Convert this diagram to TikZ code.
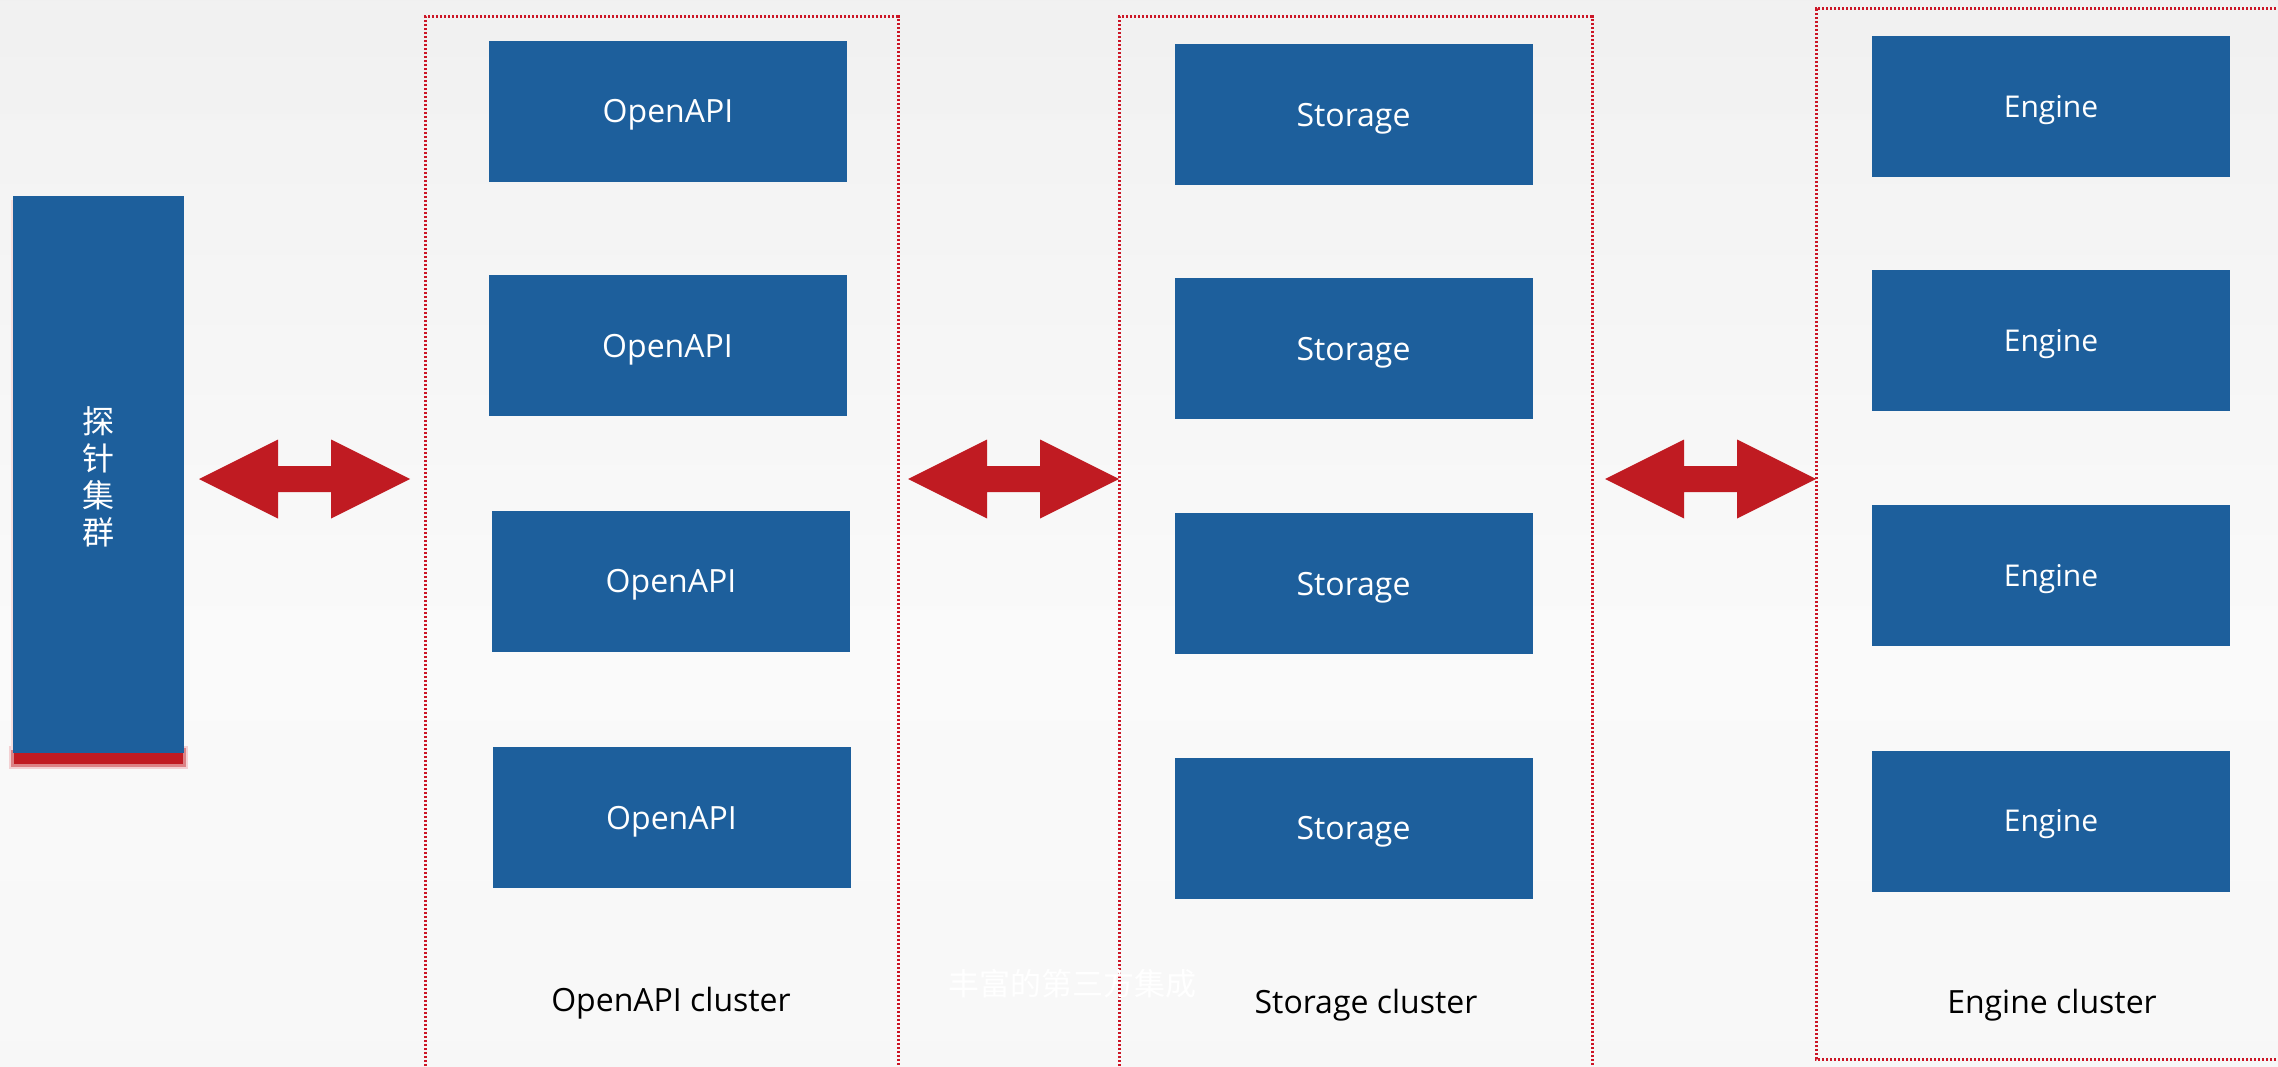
\documentclass[tikz,border=0pt]{standalone}
\usepackage{fontspec}
\setmainfont{Open Sans}
\newfontfamily\cjk{Noto Sans CJK SC}
\usetikzlibrary{calc}

\definecolor{boxblue}{HTML}{1D5F9C}
\definecolor{arrowred}{HTML}{C01B22}
\definecolor{frame}{HTML}{CC1626}
\definecolor{bgtop}{HTML}{E7E7E7}
\definecolor{bgmid}{HTML}{FAFAFA}
\definecolor{bgbot}{HTML}{F4F4F4}

% page background: grey at the top, nearly white in the upper middle
\pgfdeclareverticalshading{pagebg}{100bp}{%
  color(0bp)=(bgbot); color(45bp)=(bgmid); color(70bp)=(bgmid!60!bgtop);
  color(100bp)=(bgtop)}

\tikzset{
  unitbox/.style={fill=boxblue, draw=none, inner sep=0pt,
    minimum width=358pt, minimum height=141pt, text=white,
    text height=27pt, text depth=4pt,
    font=\fontsize{32}{38}\selectfont},
  enginebox/.style={unitbox, text height=26pt, text depth=4.6pt,
    font=\fontsize{30}{36}\selectfont},
  clusterframe/.style={draw=frame, line width=3pt, dash pattern=on 2.4pt off 1.6pt},
  clusterlabel/.style={anchor=base, inner sep=0pt, text=black,
    font=\fontsize{32}{38}\selectfont},
  % fat double-headed arrow between two points on the same row
  fatarrow/.style={to path={
    -- ($(\tikztostart)+(79,-39.5)$) -- ($(\tikztostart)+(79,-13)$)
    -- ($(\tikztotarget)+(-79,-13)$) -- ($(\tikztotarget)+(-79,-39.5)$)
    -- (\tikztotarget)
    -- ($(\tikztotarget)+(-79,39.5)$) -- ($(\tikztotarget)+(-79,13)$)
    -- ($(\tikztostart)+(79,13)$) -- ($(\tikztostart)+(79,39.5)$)
    -- cycle}},
}

\begin{document}
\begin{tikzpicture}[x=1pt, y=-1pt]
  \useasboundingbox (0,0) rectangle (2278,1067);
  \clip (0,0) rectangle (2278,1067);
  \shade[shading=pagebg] (0,0) rectangle (2278,1067);

  % probe cluster with its soft red under-shadow
  \fill[arrowred!20] (9,746) rectangle (188,769);
  \fill[arrowred!55] (11,748) rectangle (186,767);
  \fill[arrowred] (14,751) rectangle (183,764);
  \fill[arrowred!15] (11,200) rectangle (13,750);
  \node[fill=boxblue, inner sep=0pt, minimum width=171pt, minimum height=557pt]
    (probe) at (98.5,474.5) {};
  \node[text=white, align=center, font=\cjk\fontsize{32}{37}\selectfont]
    (probelabel) at ($(probe.center)+(0,2)$) {探\\针\\集\\群};

  % cluster frames
  \draw[clusterframe] (425,1090) -- (425,17) -- (898,17) -- (898,1090);
  \draw[clusterframe] (1119,1090) -- (1119,17) -- (1592,17) -- (1592,1090);
  \draw[clusterframe] (2300,1059) -- (1816,1059) -- (1816,9) -- (2300,9);

  % OpenAPI cluster
  \node[unitbox] (api1) at (668,111.5) {OpenAPI};
  \node[unitbox] (api2) at (667.5,345.5) {OpenAPI};
  \node[unitbox] (api3) at (671,581) {OpenAPI};
  \node[unitbox] (api4) at (671.5,817.5) {OpenAPI};
  \node[clusterlabel] (apilabel) at (671,1011) {OpenAPI cluster};

  % Storage cluster
  \node[unitbox] (st1) at (1353.5,115) {Storage};
  \node[unitbox] (st2) at (1353.5,348.5) {Storage};
  \node[unitbox] (st3) at (1353.5,583.5) {Storage};
  \node[unitbox] (st4) at (1353.5,828) {Storage};
  \node[clusterlabel] (stlabel) at (1366,1013) {Storage cluster};

  % Engine cluster
  \node[enginebox] (en1) at (2051,107) {Engine};
  \node[enginebox] (en2) at (2051,340.5) {Engine};
  \node[enginebox] (en3) at (2051,575.5) {Engine};
  \node[enginebox] (en4) at (2051,821) {Engine};
  \node[clusterlabel] (enlabel) at (2052,1013) {Engine cluster};

  % faint caption
  \node[text=white, font=\cjk\fontsize{31}{37}\selectfont] (caption)
    at (1072,984) {丰富的第三方集成};

  % links between the tiers
  \coordinate (a1l) at (199,479);  \coordinate (a1r) at (410,479);
  \coordinate (a2l) at (908,479);  \coordinate (a2r) at (1119,479);
  \coordinate (a3l) at (1605,479); \coordinate (a3r) at (1816,479);
  \fill[arrowred] (a1l) to[fatarrow] (a1r);
  \fill[arrowred] (a2l) to[fatarrow] (a2r);
  \fill[arrowred] (a3l) to[fatarrow] (a3r);
\end{tikzpicture}
\end{document}
